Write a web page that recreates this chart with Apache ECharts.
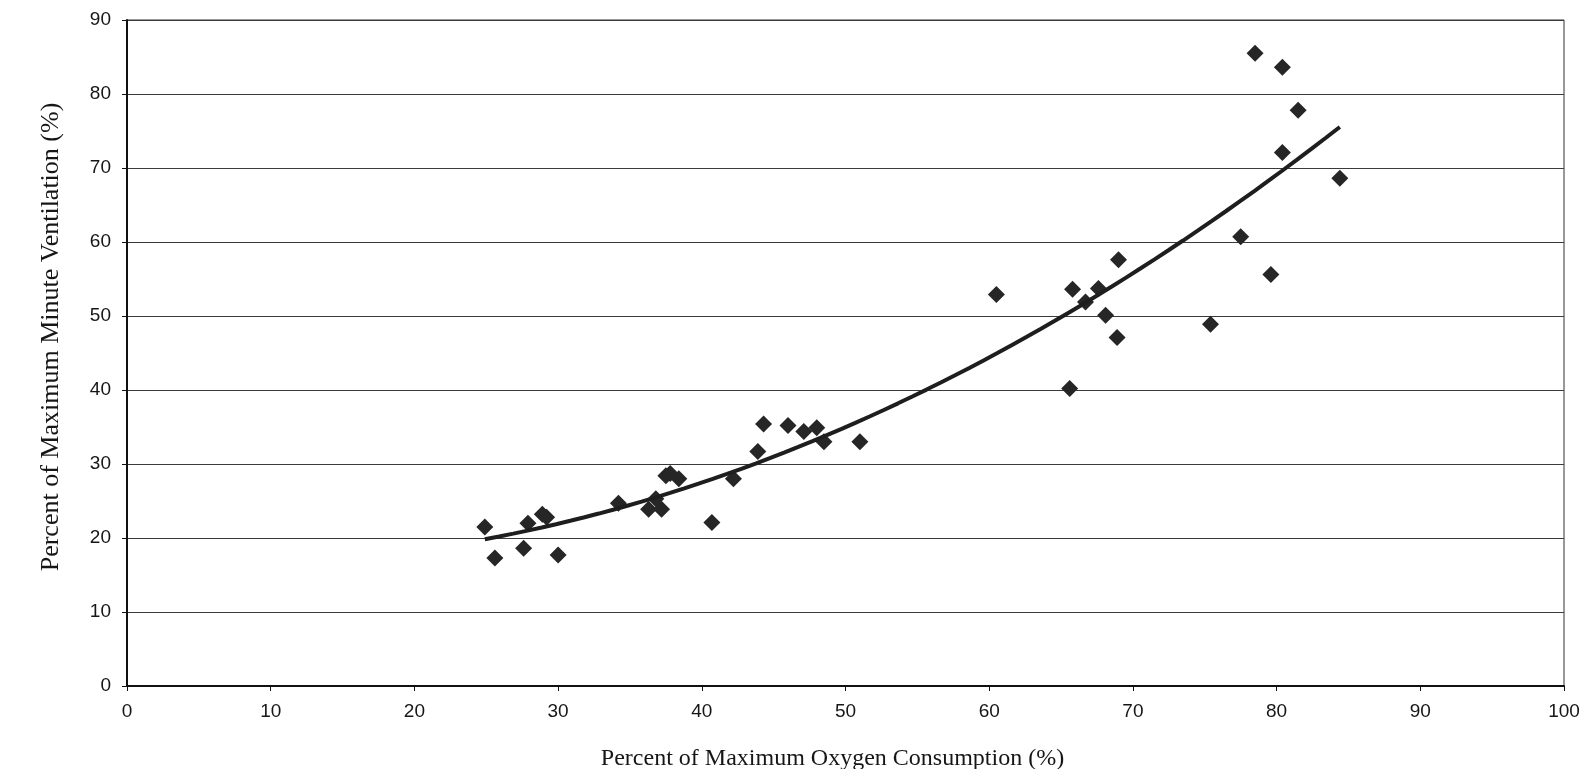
<!DOCTYPE html>
<html>
<head>
<meta charset="utf-8">
<script src="https://cdn.jsdelivr.net/npm/echarts@6/dist/echarts.min.js"></script>
<style>
  html, body { margin: 0; padding: 0; background: #fff; }
  #chart { width: 1595px; height: 769px; }
</style>
</head>
<body>
<div id="chart"></div>
<script>
// Oxygen consumption (% of max) for each observation
const oxygenPct = [
  24.9, 25.6, 27.6, 27.9, 28.9, 29.2, 30.0, 34.2, 36.3, 36.8,
  37.2, 37.5, 37.8, 38.4, 40.7, 42.2, 43.9, 44.3, 46.0, 47.1,
  48.0, 48.5, 51.0, 60.5, 65.6, 65.8, 66.7, 67.6, 68.1, 68.9,
  69.0, 75.4, 77.5, 78.5, 79.6, 80.4, 80.4, 81.5, 84.4
];
// Minute ventilation (% of max) for the same observations
const ventilationPct = [
  21.5, 17.3, 18.6, 22.0, 23.2, 22.8, 17.7, 24.7, 23.9, 25.3,
  23.9, 28.4, 28.7, 28.0, 22.1, 28.0, 31.7, 35.4, 35.2, 34.4,
  34.9, 33.0, 33.0, 52.9, 40.2, 53.6, 51.9, 53.7, 50.1, 47.1,
  57.6, 48.9, 60.7, 85.5, 55.6, 83.6, 72.1, 77.8, 68.6
];
const xTitle = 'Percent of Maximum Oxygen Consumption (%)';
const yTitle = 'Percent of Maximum Minute Ventilation (%)';

const points = oxygenPct.map((x, i) => [x, ventilationPct[i]]);

// Second-order least-squares trendline through the observations
function quadFit(xs, ys) {
  const n = xs.length;
  let s = [0, 0, 0, 0, 0], t = [0, 0, 0];
  for (let i = 0; i < n; i++) {
    let p = 1;
    for (let k = 0; k < 5; k++) { s[k] += p; if (k < 3) t[k] += p * ys[i]; p *= xs[i]; }
  }
  const A = [[s[0], s[1], s[2], t[0]], [s[1], s[2], s[3], t[1]], [s[2], s[3], s[4], t[2]]];
  for (let c = 0; c < 3; c++) {
    for (let r = c + 1; r < 3; r++) {
      const f = A[r][c] / A[c][c];
      for (let k = c; k < 4; k++) A[r][k] -= f * A[c][k];
    }
  }
  const b = [0, 0, 0];
  for (let r = 2; r >= 0; r--) {
    let v = A[r][3];
    for (let k = r + 1; k < 3; k++) v -= A[r][k] * b[k];
    b[r] = v / A[r][r];
  }
  return b;
}
const coef = quadFit(oxygenPct, ventilationPct);
const xMin = Math.min(...oxygenPct), xMax = Math.max(...oxygenPct);
const trend = [];
for (let i = 0; i <= 60; i++) {
  const x = xMin + (xMax - xMin) * i / 60;
  trend.push([x, coef[0] + coef[1] * x + coef[2] * x * x]);
}

const chart = echarts.init(document.getElementById('chart'));
const tickFont = { fontFamily: 'Liberation Sans, Arial, sans-serif', fontSize: 19, color: '#161616' };
const serif = 'Liberation Serif, Times New Roman, serif';

chart.setOption({
  animation: false,
  backgroundColor: '#ffffff',
  grid: {
    left: 127, right: 31, top: 20, bottom: 83,
    outerBoundsMode: 'none',
    containLabel: false,
    show: true, borderColor: '#333', borderWidth: 1
  },
  xAxis: {
    type: 'value', min: 0, max: 100, interval: 10,
    name: xTitle, nameLocation: 'middle', nameGap: 61,
    nameTextStyle: { fontFamily: serif, fontSize: 24, color: '#161616', padding: [0, 26, 0, 0] },
    axisLine: { lineStyle: { color: '#111', width: 2 } },
    axisTick: { show: true, length: 5, lineStyle: { color: '#111' } },
    axisLabel: Object.assign({ margin: 16 }, tickFont),
    splitLine: { show: false }
  },
  yAxis: {
    type: 'value', min: 0, max: 90, interval: 10,
    name: yTitle, nameLocation: 'middle', nameGap: 63,
    nameTextStyle: { fontFamily: serif, fontSize: 26, color: '#161616', padding: [0, 0, 0, 32] },
    axisLine: { show: true, lineStyle: { color: '#111', width: 2 } },
    axisTick: { show: true, length: 5, lineStyle: { color: '#111' } },
    axisLabel: Object.assign({ margin: 16 }, tickFont),
    splitLine: { show: true, lineStyle: { color: '#3a3a3a', width: 1.2 } }
  },
  series: [
    {
      type: 'scatter',
      data: points,
      symbol: 'diamond',
      symbolSize: 17,
      itemStyle: { color: '#262626', opacity: 1 },
      z: 3
    },
    {
      type: 'line',
      data: trend,
      showSymbol: false,
      smooth: false,
      lineStyle: { color: '#1e1e1e', width: 4 },
      z: 4
    }
  ]
});
</script>
</body>
</html>
